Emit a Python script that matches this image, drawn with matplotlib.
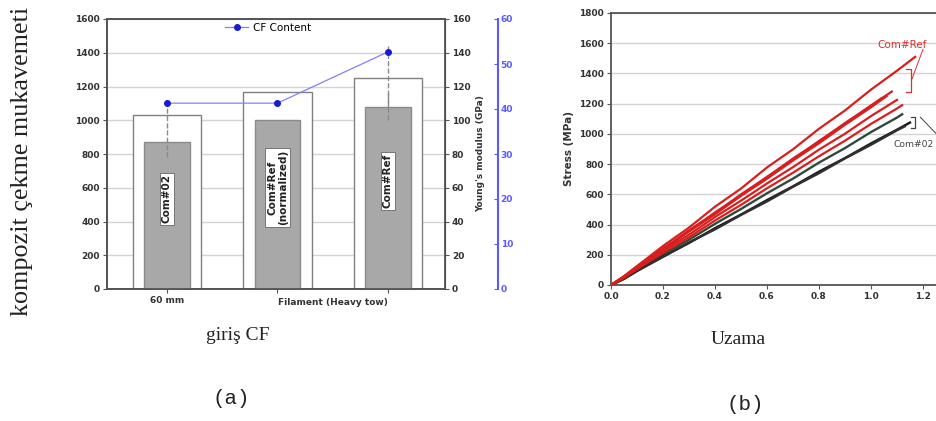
import matplotlib
matplotlib.use("Agg")
import matplotlib.pyplot as plt
import numpy as np

# bar chart data (a)
groups = ["60 mm", "", ""]
bar_names = ["Com#02", "Com#Ref\n(normalized)", "Com#Ref"]
strength = [1030, 1170, 1250]          # MPa, white bars
strength_err = [75, 0, 190]
modulus = [87, 100, 108]               # GPa, grey bars
modulus_err = [9, 0, 8]
cf_content = [41.3, 41.3, 52.7]        # CF content

# stress-strain curves (b)
red_strain = [
    [0, 0.05, 0.1, 0.2, 0.3, 0.4, 0.5, 0.6, 0.7, 0.8, 0.9, 1.0, 1.1, 1.17],
    [0, 0.05, 0.1, 0.2, 0.3, 0.4, 0.5, 0.6, 0.7, 0.8, 0.9, 1.0, 1.08],
    [0, 0.05, 0.1, 0.2, 0.3, 0.4, 0.5, 0.6, 0.7, 0.8, 0.9, 1.0, 1.06],
    [0, 0.05, 0.1, 0.2, 0.3, 0.4, 0.5, 0.6, 0.7, 0.8, 0.9, 1.0, 1.10],
    [0, 0.05, 0.1, 0.2, 0.3, 0.4, 0.5, 0.6, 0.7, 0.8, 0.9, 1.0, 1.04],
    [0, 0.05, 0.1, 0.2, 0.3, 0.4, 0.5, 0.6, 0.7, 0.8, 0.9, 1.0, 1.1, 1.12],
]
red_stress = [
    [0, 58, 125, 258, 380, 518, 638, 778, 898, 1034, 1155, 1293, 1418, 1510],
    [0, 55, 120, 242, 356, 480, 593, 715, 828, 953, 1066, 1188, 1280],
    [0, 54, 118, 234, 354, 468, 590, 703, 824, 938, 1060, 1176, 1250],
    [0, 50, 112, 227, 333, 450, 558, 672, 780, 896, 1001, 1118, 1225],
    [0, 57, 122, 238, 362, 476, 600, 714, 837, 950, 1072, 1186, 1235],
    [0, 48, 105, 214, 316, 427, 530, 640, 743, 852, 955, 1066, 1168, 1190],
]
black_strain = [
    [0, 0.05, 0.1, 0.2, 0.3, 0.4, 0.5, 0.6, 0.7, 0.8, 0.9, 1.0, 1.1, 1.12],
    [0, 0.05, 0.1, 0.2, 0.3, 0.4, 0.5, 0.6, 0.7, 0.8, 0.9, 1.0, 1.1, 1.15],
    [0, 0.05, 0.1, 0.2, 0.3, 0.4, 0.5, 0.6, 0.7, 0.8, 0.9, 1.0, 1.1, 1.13],
]
black_stress = [
    [0, 44, 98, 202, 300, 405, 503, 607, 704, 810, 906, 1012, 1108, 1130],
    [0, 40, 92, 188, 278, 376, 466, 562, 653, 750, 840, 937, 1028, 1075],
    [0, 42, 95, 186, 282, 368, 464, 553, 650, 740, 838, 928, 1024, 1050],
]
black_colors = ["#2f4a3a", "#1a1a1a", "#303030"]

W, H = 937, 421
fig = plt.figure(figsize=(W / 100, H / 100), dpi=100)

def box(l, t, r, b):
    return [l / W, 1 - b / H, (r - l) / W, (b - t) / H]

spine_c = "#555555"

# ---- (a) bars ----
ax = fig.add_axes(box(107, 19, 445, 289))
x = np.arange(len(groups))
ax.set_xlim(-0.543, 2.516)
ax.set_ylim(0, 1600)
ax.set_yticks(range(0, 1601, 200))
ax.grid(axis="y", color="#d4d4d4", lw=1)
ax.set_axisbelow(True)
ax.bar(x, strength, width=0.62, color="white", edgecolor="#808080", lw=1, zorder=2)
eb = ax.errorbar(x, strength, yerr=strength_err, fmt="none", ecolor="#8a8a8a",
                 elinewidth=1, zorder=4)
eb[2][0].set_linestyle("--")

ax2 = ax.twinx()
ax2.set_ylim(0, 160)
ax2.set_yticks(range(0, 161, 20))
ax2.bar(x, modulus, width=0.41, color="#a8a8a8", edgecolor="#8a8a8a", lw=1, zorder=2)
eb2 = ax2.errorbar(x, modulus, yerr=modulus_err, fmt="none", ecolor="#8a8a8a",
                   elinewidth=1, zorder=4)
eb2[2][0].set_linestyle("--")
for xi, name, m in zip(x, bar_names, modulus):
    ax2.text(xi, m * 0.5 + 10, name, rotation=90, ha="center", va="center",
             fontsize=7.5, fontweight="bold", color="#222222", linespacing=1.1,
             bbox=dict(facecolor="white", edgecolor="#666666", lw=0.6, pad=1.2),
             zorder=5)
ax2.set_ylabel("Young's modulus (GPa)", fontsize=6.5, fontweight="bold",
               color="#333333", labelpad=4)

ax3 = ax.twinx()
ax3.spines["right"].set_position(("outward", 38))
ax3.set_ylim(0, 60)
ax3.set_yticks(range(0, 61, 10))
blue = "#5a5aff"
ax3.plot(x, cf_content, color="#8080ff", lw=0.9, marker="o", ms=4,
         mfc="#1a1ad0", mec="#1a1ad0", label="CF Content", zorder=6)
ax3.spines["right"].set_color(blue)
ax3.spines["right"].set_linewidth(1.5)
ax3.tick_params(axis="y", colors=blue, direction="in", length=3, labelsize=6.5, pad=2)
for t in ax3.get_yticklabels():
    t.set_fontweight("bold")
ax3.legend(loc="upper left", bbox_to_anchor=(0.35, 0.985), frameon=False,
           fontsize=7.5, handlelength=2.2, handletextpad=0.5,
           borderpad=0, borderaxespad=0)

for a in (ax, ax2, ax3):
    for s in ("left", "top", "bottom"):
        a.spines[s].set_color(spine_c)
        a.spines[s].set_linewidth(1.3)
ax2.spines["right"].set_color(spine_c)
ax2.spines["right"].set_linewidth(1.3)
ax3.spines["left"].set_visible(False)
ax3.spines["top"].set_visible(False)
ax3.spines["bottom"].set_visible(False)

ax.set_xticks(x)
ax.set_xticklabels(groups)
ax.tick_params(axis="x", length=3, color=spine_c, pad=2)
ax.tick_params(axis="y", length=3, color=spine_c, pad=2)
ax2.tick_params(axis="y", length=3, color=spine_c, pad=2)
for a in (ax, ax2):
    for t in a.get_xticklabels() + a.get_yticklabels():
        t.set_fontsize(6.5)
        t.set_fontweight("bold")
        t.set_color("#333333")
ax.text(1.5, -0.035, "Filament (Heavy tow)", transform=ax.get_xaxis_transform(),
        ha="center", va="top", fontsize=6.5, fontweight="bold", color="#333333")

fig.text(22 / W, 1 - 161 / H, "kompozit çekme mukavemeti", rotation=90,
         ha="center", va="center", fontsize=18.8, family="Liberation Serif",
         color="#222222")
fig.text(238 / W, 1 - 336 / H, "giriş CF", ha="center", va="center",
         fontsize=14, family="Liberation Serif", color="#222222")
fig.text(231 / W, 1 - 398 / H, "(a)", ha="center", va="center",
         fontsize=15, family="Liberation Mono", color="#222222")

# ---- (b) stress-strain ----
bx = fig.add_axes(box(611, 13, 611 + 1.3 * 260, 285))
bx.set_xlim(0, 1.3)
bx.set_ylim(0, 1800)
bx.set_xticks([0, 0.2, 0.4, 0.6, 0.8, 1.0, 1.2])
bx.set_yticks(range(0, 1801, 200))
bx.grid(axis="y", color="#d4d4d4", lw=1)
bx.set_axisbelow(True)
for s, st, c in zip(black_strain, black_stress, black_colors):
    bx.plot(s, st, color=c, lw=1.7, zorder=3)
for s, st in zip(red_strain, red_stress):
    bx.plot(s, st, color="#d91e1e", lw=1.6, zorder=4)

# brackets and labels
bx.plot([1.135, 1.152, 1.152, 1.135], [1430, 1430, 1280, 1280], color="#d93030", lw=0.9)
bx.plot([1.158, 1.2], [1365, 1560], color="#d93030", lw=0.7)
bx.text(1.025, 1590, "Com#Ref", color="#d93030", fontsize=7.5, va="center")
bx.plot([1.155, 1.17, 1.17, 1.155], [1112, 1112, 1040, 1040], color="#444444", lw=0.9)
bx.plot([1.19, 1.26], [1110, 985], color="#444444", lw=0.7)
bx.text(1.085, 930, "Com#02", color="#444444", fontsize=6.6, va="center")

for s in bx.spines.values():
    s.set_color(spine_c)
    s.set_linewidth(1.3)
bx.tick_params(length=3, color=spine_c, pad=2)
for t in bx.get_xticklabels() + bx.get_yticklabels():
    t.set_fontsize(6.5)
    t.set_fontweight("bold")
    t.set_color("#333333")
bx.set_ylabel("Stress (MPa)", fontsize=7.5, fontweight="bold", color="#333333",
              labelpad=4)

fig.text(738 / W, 1 - 340 / H, "Uzama", ha="center", va="center",
         fontsize=14, family="Liberation Serif", color="#222222")
fig.text(745 / W, 1 - 404 / H, "(b)", ha="center", va="center",
         fontsize=15, family="Liberation Mono", color="#222222")

fig.savefig("out.png", dpi=100)
